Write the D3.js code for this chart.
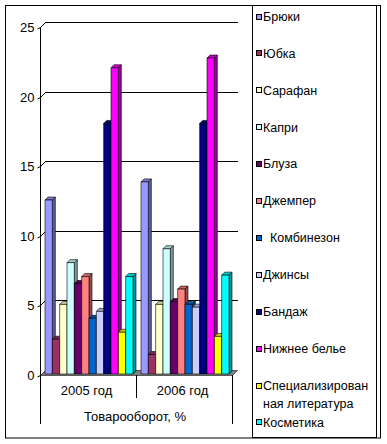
<!DOCTYPE html>
<html><head><meta charset="utf-8">
<script src="https://cdn.jsdelivr.net/npm/d3@7"></script>
<style>
body{margin:0;background:#fff}
svg{display:block}
text{font-family:"Liberation Sans",Arial,sans-serif;fill:#000}
</style>
</head><body>
<svg id="c" width="387" height="444"></svg>
<script>
const categories = ["2005 год", "2006 год"];
const seriesNames = ["Брюки","Юбка","Сарафан","Капри","Блуза","Джемпер","  Комбинезон","Джинсы","Бандаж","Нижнее белье","Специализированная литература","Косметика"];
const values2005 = [12.5, 2.5, 5.0, 8.0, 6.5, 7.0, 4.0, 4.5, 18.0, 22.0, 3.0, 7.0];
const values2006 = [13.8, 1.4, 5.0, 9.0, 5.2, 6.1, 5.0, 4.8, 18.0, 22.7, 2.7, 7.1];
const seriesColors = ["#9999FF","#993366","#FFFFCC","#CCFFFF","#660066","#FF8080","#0066CC","#CCCCFF","#000080","#FF00FF","#FFFF00","#00FFFF"];
const yTicks = [0, 5, 10, 15, 20, 25];
const axisTitle = "Товарооборот, %";

const valuesByCategory = [values2005, values2006];

const svg = d3.select("#c");

// outer border
svg.append("rect").attr("x",5.5).attr("y",5.5).attr("width",375).attr("height",432.5)
  .attr("fill","#fff").attr("stroke","#000");

const x0 = d3.scaleBand().domain(categories).range([40, 232]);
const x1 = d3.scaleBand().domain(d3.range(seriesNames.length)).range([4, 92]);
const y = d3.scaleLinear().domain([0, 25]).range([375, 27]);
const wallDx = 5, wallDy = -5;

// gridlines on back wall + left wall diagonals
const g = svg.append("g");
yTicks.forEach(t => {
  const yy = Math.round(y(t)) + 0.5;
  if (t > 0) {
    g.append("line").attr("x1", 40 + wallDx).attr("x2", 238).attr("y1", yy + wallDy).attr("y2", yy + wallDy)
      .attr("stroke", "#000");
  }
  g.append("line").attr("x1", 40.5).attr("y1", yy).attr("x2", 40.5 + wallDx).attr("y2", yy + wallDy)
    .attr("stroke", "#000");
  g.append("line").attr("x1", 40.5).attr("y1", yy).attr("x2", 37.5).attr("y2", yy + 1.5)
    .attr("stroke", "#000");
  g.append("text").attr("x", 34.5).attr("y", y(t) + 5).attr("text-anchor", "end")
    .attr("font-size", "13px").text(t);
});

// floor
const y0 = y(0);
svg.append("path")
  .attr("d", `M40.5,${y0+0.5} L232.5,${y0+0.5} L${232.5+wallDx},${y0+0.5+wallDy} L${40.5+wallDx},${y0+0.5+wallDy} Z`)
  .attr("fill", "#808080").attr("stroke", "#404040").attr("stroke-width", 0.8);

// axis line
svg.append("line").attr("x1", 40.5).attr("x2", 40.5).attr("y1", y(25)).attr("y2", 424).attr("stroke", "#000");

// bars
function shade(c, k) {
  const r = d3.rgb(c);
  return d3.rgb(r.r * k, r.g * k, r.b * k).toString();
}
const bd = 3; // bar depth
const bars = svg.append("g");
categories.forEach((cat, ci) => {
  valuesByCategory[ci].forEach((v, i) => {
    const bx = x0(cat) + x1(i) + 1;
    const bw = x1.bandwidth();
    const yt = y(v) - 1;
    const yb = y0 - 1;
    const col = seriesColors[i];
    const gb = bars.append("g").attr("stroke", "#000").attr("stroke-width", 0.6).attr("stroke-linejoin", "round");
    gb.append("path").attr("d", `M${bx+bw},${yt} L${bx+bw+bd},${yt-bd} L${bx+bw+bd},${yb-bd} L${bx+bw},${yb} Z`)
      .attr("fill", shade(col, 0.6));
    gb.append("path").attr("d", `M${bx},${yt} L${bx+bw},${yt} L${bx+bw+bd},${yt-bd} L${bx+bd},${yt-bd} Z`)
      .attr("fill", shade(col, 0.8));
    gb.append("rect").attr("x", bx).attr("y", yt).attr("width", bw).attr("height", yb - yt)
      .attr("fill", col);
  });
});

// category axis box
const ax = svg.append("g").attr("stroke", "#000");
ax.append("line").attr("x1", 40.5).attr("x2", 40.5).attr("y1", y0).attr("y2", 424);
ax.append("line").attr("x1", 232.5).attr("x2", 232.5).attr("y1", y0).attr("y2", 424);
ax.append("line").attr("x1", 136.5).attr("x2", 136.5).attr("y1", y0).attr("y2", 398);
categories.forEach(cat => {
  svg.append("text").attr("x", x0(cat) + x0.bandwidth() / 2 - 1.5).attr("y", 395)
    .attr("text-anchor", "middle").attr("font-size", "13px").text(cat);
});
svg.append("text").attr("x", 135).attr("y", 420.5).attr("text-anchor", "middle")
  .attr("font-size", "13px").text(axisTitle);

// legend
svg.append("rect").attr("x", 252.5).attr("y", 5.5).attr("width", 124).attr("height", 432)
  .attr("fill", "#fff").attr("stroke", "#000");
seriesNames.forEach((name, i) => {
  const cy = 16.5 + i * 36.9;
  svg.append("rect").attr("x", 256.5).attr("y", Math.round(cy - 3) + 0.5).attr("width", 5).attr("height", 5)
    .attr("fill", seriesColors[i]).attr("stroke", "#000");
  const lines = name.length > 20 ? [name.slice(0, 15), name.slice(15)] : [name];
  lines.forEach((ln, li) => {
    svg.append("text").attr("x", 263).attr("y", cy + 4.3 + li * 18.5)
      .attr("font-size", "12.5px").style("white-space", "pre").text(ln);
  });
});
</script>
</body></html>
